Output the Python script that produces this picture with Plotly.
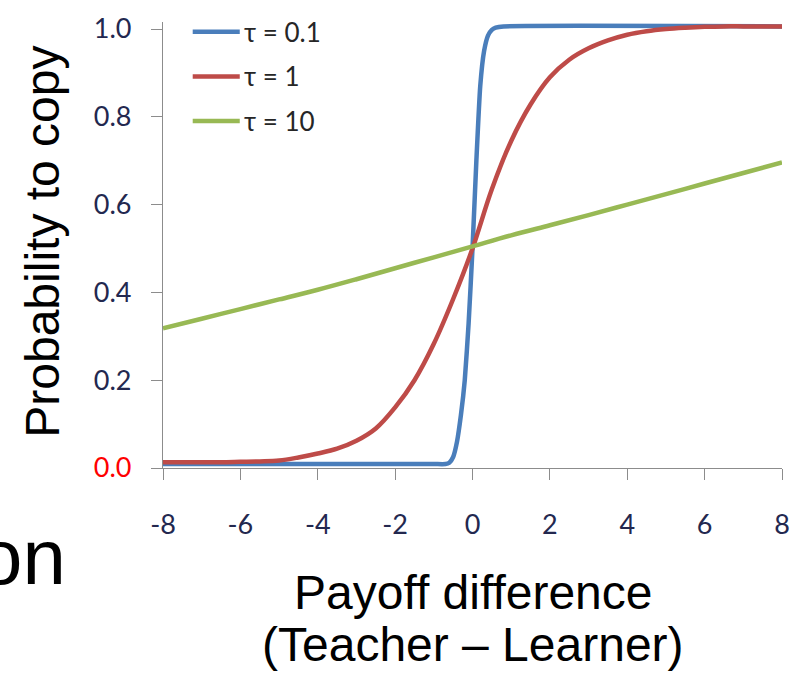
import plotly.graph_objects as go

# Probability to copy as a function of payoff difference (Teacher - Learner)
# for three noise levels tau.

# tau = 0.1 : nearly a step at zero
x_tau01 = [-8, -1, -0.7, -0.6, -0.5, -0.4, -0.3, -0.2, -0.1, 0, 0.1, 0.2, 0.3,
           0.4, 0.5, 0.6, 0.8, 8]
p_tau01 = [0.009, 0.009, 0.009, 0.012, 0.025, 0.06, 0.12, 0.2, 0.33, 0.5, 0.7,
           0.87, 0.95, 0.985, 0.998, 1.003, 1.006, 1.006]

# tau = 1
x_tau1 = [-8, -7.5, -7, -6.5, -6, -5.5, -5, -4.5, -4, -3.5, -3, -2.5, -2, -1.5,
          -1, -0.5, 0, 0.5, 1, 1.5, 2, 2.5, 3, 3.5, 4, 4.5, 5, 5.5, 6, 6.5, 7,
          7.5, 8]
p_tau1 = [0.013, 0.013, 0.013, 0.013, 0.014, 0.015, 0.017, 0.024, 0.033, 0.044,
          0.062, 0.09, 0.138, 0.2, 0.283, 0.385, 0.5, 0.635, 0.745, 0.828, 0.89,
          0.93, 0.956, 0.974, 0.987, 0.995, 1.0, 1.003, 1.005, 1.006, 1.006,
          1.006, 1.006]

# tau = 10 : almost linear
x_tau10 = [-8, -7, -6, -5, -4, -3, -2, -1, 0, 1, 2, 3, 4, 5, 6, 7, 8]
p_tau10 = [0.318, 0.34, 0.362, 0.384, 0.406, 0.43, 0.455, 0.48, 0.505, 0.53,
           0.553, 0.576, 0.6, 0.624, 0.648, 0.672, 0.696]

series_names = ["τ = 0.1", "τ = 1", "τ = 10"]
series_colors = ["#4A7EBB", "#BE4B48", "#98B954"]
series_smoothing = [0.5, 1.0, 1.0]

x_tick_vals = [-8, -6, -4, -2, 0, 2, 4, 6, 8]
x_tick_text = ["-8", "-6", "-4", "-2", "0", "2", "4", "6", "8"]
y_tick_vals = [0.0, 0.2, 0.4, 0.6, 0.8, 1.0]
y_tick_text = ['<span style="color:#FF0000">0.0</span>', "0.2", "0.4", "0.6",
               "0.8", "1.0"]

AXIS_GREY = "#8C8C8C"
TICK_FONT = dict(family="Lato", size=27, color="#23284F")
TITLE_FONT = dict(family="Liberation Sans", size=48, color="#000000")

fig = go.Figure()
for xs, ys, name, color, sm in zip([x_tau01, x_tau1, x_tau10],
                                   [p_tau01, p_tau1, p_tau10],
                                   series_names, series_colors,
                                   series_smoothing):
    fig.add_trace(go.Scatter(x=xs, y=ys, mode="lines", name=name,
                             line=dict(color=color, width=4.5,
                                       shape="spline", smoothing=sm),
                             showlegend=False, hoverinfo="skip"))

# Legend drawn in the upper-left corner of the plot area
legend_rows = [0.978, 0.878, 0.778]
for name, color, yr in zip(series_names, series_colors, legend_rows):
    fig.add_shape(type="line", xref="paper", yref="paper",
                  x0=0.048, x1=0.124, y0=yr, y1=yr,
                  line=dict(color=color, width=4.5))
    fig.add_annotation(xref="paper", yref="paper", x=0.127, y=yr,
                       xanchor="left", yanchor="middle", showarrow=False,
                       text=name,
                       font=dict(family="Lato", size=26, color="#262626"))

# Axis titles
fig.add_annotation(xref="paper", yref="paper", x=-0.195, y=0.508,
                   textangle=-90, xanchor="center", yanchor="middle",
                   showarrow=False, text="Probability to copy",
                   font=TITLE_FONT)
fig.add_annotation(xref="paper", yref="paper", x=0.5, y=-0.28,
                   xanchor="center", yanchor="middle", showarrow=False,
                   text="Payoff difference", font=TITLE_FONT)
fig.add_annotation(xref="paper", yref="paper", x=0.5, y=-0.395,
                   xanchor="center", yanchor="middle", showarrow=False,
                   text="(Teacher – Learner)", font=TITLE_FONT)
# Trailing fragment of surrounding slide text, running off the left edge
fig.add_annotation(xref="paper", yref="paper", x=-0.153, y=-0.2,
                   xanchor="right", yanchor="middle", showarrow=False,
                   text="on",
                   font=dict(family="Liberation Sans", size=78,
                             color="#000000"))

fig.update_layout(
    width=802, height=679,
    margin=dict(l=163, r=19, t=17, b=211, pad=0),
    paper_bgcolor="white", plot_bgcolor="white",
    xaxis=dict(range=[-8, 8], tickvals=x_tick_vals, ticktext=x_tick_text,
               showgrid=False, zeroline=False, showline=True,
               linecolor=AXIS_GREY, linewidth=1.3, ticks="outside",
               ticklen=11, tickwidth=1.3, tickcolor=AXIS_GREY,
               tickfont=TICK_FONT, ticklabelstandoff=21),
    yaxis=dict(range=[0, 1.016], tickvals=y_tick_vals, ticktext=y_tick_text,
               showgrid=False, zeroline=False, showline=True,
               linecolor=AXIS_GREY, linewidth=1.3, ticks="outside",
               ticklen=11, tickwidth=1.3, tickcolor=AXIS_GREY,
               tickfont=TICK_FONT, ticklabelstandoff=14),
)

fig.write_html("out.html")
